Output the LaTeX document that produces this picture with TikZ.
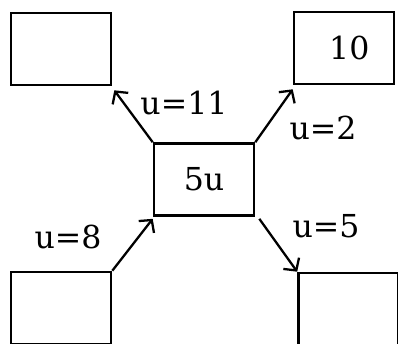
\documentclass[tikz,border=0pt]{standalone}
\usepackage{fontspec}
\setmainfont{DejaVu Serif}
\usetikzlibrary{arrows.meta}
\usetikzlibrary{positioning}

\begin{document}
\begin{tikzpicture}[
    x=0.02cm, y=-0.02cm,
    >={Straight Barb[length=5pt, width=11pt, line width=1.3pt]},
    every node/.style={font=\fontsize{18}{21}\selectfont},
    bx/.style={rectangle, draw, line width=1.5pt, minimum width=2cm, minimum height=1.44cm, inner sep=0pt},
    ar/.style={->, line width=1.3pt},
]
    \useasboundingbox (0,0) rectangle (398,343);
    \clip (0,0) rectangle (398,343);

    \node[bx] (tl) at (61,49)    {};
    \node[bx] (tr) at (344,48)   {\hspace{6pt}10};
    \node[bx] (c)  at (204,179.5) {5u};
    \node[bx] (bl) at (61,308)   {};
    \node[bx] (br) at (348.5,309) {};

    % c -> tl
    \draw[ar] (c.north west) -- ([shift={(2,4)}]tl.south east);
    \node (l11) at (184,103) {u=11};

    % c -> tr
    \draw[ar] (c.north east) -- ([shift={(0,4)}]tr.south west);
    \node (l2) at (323,128) {u=2};

    % bl -> c
    \draw[ar] (bl.north east) -- ([shift={(0,2)}]c.south west);
    \node (l8) at (68,237) {u=8};

    % c -> br
    \draw[ar] ([shift={(4,2)}]c.south east) -- (br.north west);
    \node (l5) at (326,226) {u=5};

\end{tikzpicture}
\end{document}
